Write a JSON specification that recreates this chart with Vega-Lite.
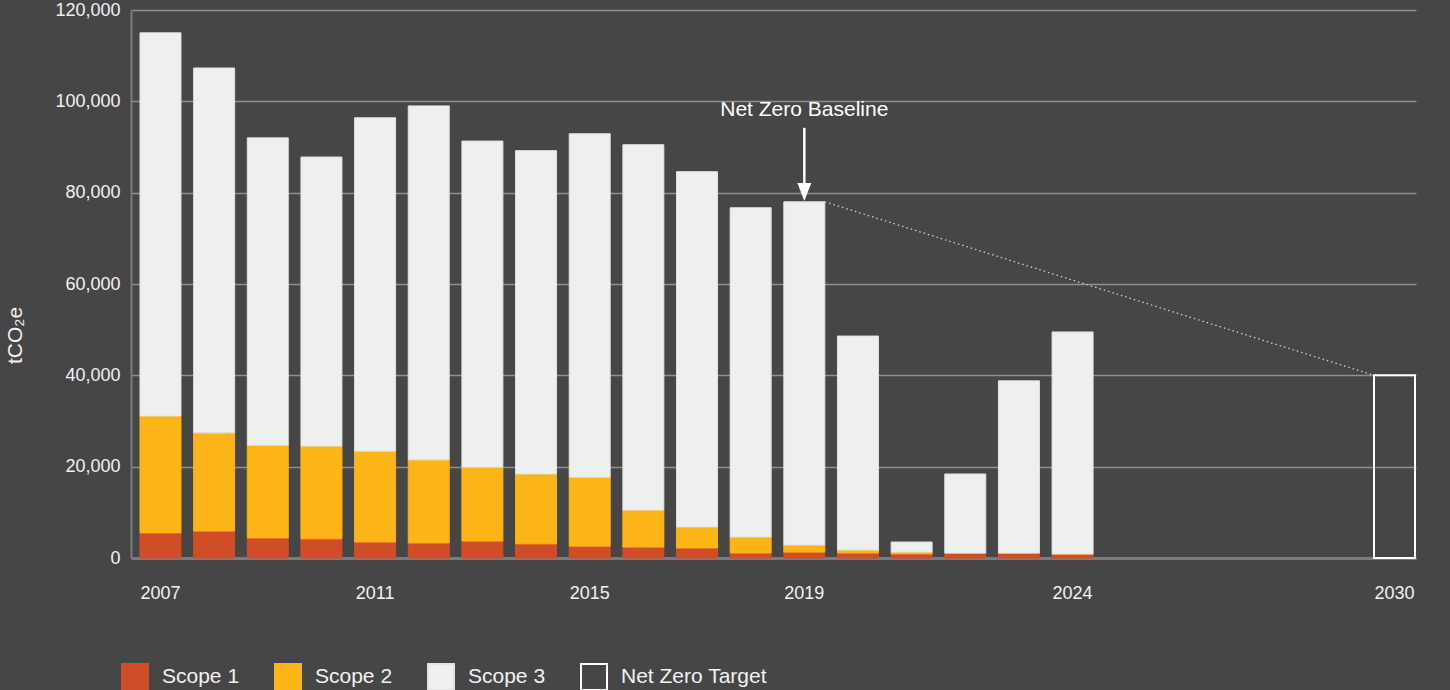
{
  "$schema": "https://vega.github.io/schema/vega-lite/v6.json",
  "autosize": {"type": "none"},
  "padding": {"left": 131, "top": 10, "right": 34, "bottom": 132},
  "width": 1285,
  "height": 548,
  "background": "#464646",
  "config": {
    "view": {"stroke": null},
    "font": "Liberation Sans",
    "text": {"font": "Liberation Sans"}
  },
  "datasets": {
    "emissions": [
      {"year": "2007", "scope": "Scope 1", "value": 5500},
      {"year": "2007", "scope": "Scope 2", "value": 25600},
      {"year": "2007", "scope": "Scope 3", "value": 83900},
      {"year": "2008", "scope": "Scope 1", "value": 5900},
      {"year": "2008", "scope": "Scope 2", "value": 21500},
      {"year": "2008", "scope": "Scope 3", "value": 79900},
      {"year": "2009", "scope": "Scope 1", "value": 4400},
      {"year": "2009", "scope": "Scope 2", "value": 20300},
      {"year": "2009", "scope": "Scope 3", "value": 67300},
      {"year": "2010", "scope": "Scope 1", "value": 4200},
      {"year": "2010", "scope": "Scope 2", "value": 20300},
      {"year": "2010", "scope": "Scope 3", "value": 63300},
      {"year": "2011", "scope": "Scope 1", "value": 3500},
      {"year": "2011", "scope": "Scope 2", "value": 19900},
      {"year": "2011", "scope": "Scope 3", "value": 73000},
      {"year": "2012", "scope": "Scope 1", "value": 3300},
      {"year": "2012", "scope": "Scope 2", "value": 18200},
      {"year": "2012", "scope": "Scope 3", "value": 77500},
      {"year": "2013", "scope": "Scope 1", "value": 3700},
      {"year": "2013", "scope": "Scope 2", "value": 16200},
      {"year": "2013", "scope": "Scope 3", "value": 71400},
      {"year": "2014", "scope": "Scope 1", "value": 3100},
      {"year": "2014", "scope": "Scope 2", "value": 15300},
      {"year": "2014", "scope": "Scope 3", "value": 70800},
      {"year": "2015", "scope": "Scope 1", "value": 2600},
      {"year": "2015", "scope": "Scope 2", "value": 15100},
      {"year": "2015", "scope": "Scope 3", "value": 75200},
      {"year": "2016", "scope": "Scope 1", "value": 2400},
      {"year": "2016", "scope": "Scope 2", "value": 8100},
      {"year": "2016", "scope": "Scope 3", "value": 80000},
      {"year": "2017", "scope": "Scope 1", "value": 2200},
      {"year": "2017", "scope": "Scope 2", "value": 4600},
      {"year": "2017", "scope": "Scope 3", "value": 77800},
      {"year": "2018", "scope": "Scope 1", "value": 1100},
      {"year": "2018", "scope": "Scope 2", "value": 3500},
      {"year": "2018", "scope": "Scope 3", "value": 72100},
      {"year": "2019", "scope": "Scope 1", "value": 1300},
      {"year": "2019", "scope": "Scope 2", "value": 1550},
      {"year": "2019", "scope": "Scope 3", "value": 75150},
      {"year": "2020", "scope": "Scope 1", "value": 1100},
      {"year": "2020", "scope": "Scope 2", "value": 650},
      {"year": "2020", "scope": "Scope 3", "value": 46850},
      {"year": "2021", "scope": "Scope 1", "value": 900},
      {"year": "2021", "scope": "Scope 2", "value": 400},
      {"year": "2021", "scope": "Scope 3", "value": 2200},
      {"year": "2022", "scope": "Scope 1", "value": 1100},
      {"year": "2022", "scope": "Scope 2", "value": 0},
      {"year": "2022", "scope": "Scope 3", "value": 17300},
      {"year": "2023", "scope": "Scope 1", "value": 1100},
      {"year": "2023", "scope": "Scope 2", "value": 0},
      {"year": "2023", "scope": "Scope 3", "value": 37700},
      {"year": "2024", "scope": "Scope 1", "value": 900},
      {"year": "2024", "scope": "Scope 2", "value": 0},
      {"year": "2024", "scope": "Scope 3", "value": 48600}
    ],
    "target": [
      {"year": "2030", "scope": "Net Zero Target", "value": 40000}
    ],
    "trend": [
      {"from": "2019", "to": "2030", "start": 78000, "end": 40000}
    ],
    "label": [
      {"year": "2019", "text": "Net Zero Baseline", "value": 98100, "shaftTop": 94200, "shaftBottom": 81700, "head": 80150}
    ]
  },
  "encoding": {
    "x": {
      "field": "year",
      "type": "ordinal",
      "scale": {
        "domain": ["2007","2008","2009","2010","2011","2012","2013","2014","2015","2016","2017","2018","2019","2020","2021","2022","2023","2024","2025","2026","2027","2028","2029","2030"],
        "paddingInner": 0.236,
        "paddingOuter": 0.093,
        "align": 0.9
      },
      "axis": {
        "values": ["2007","2011","2015","2019","2024","2030"],
        "title": null,
        "labelAngle": 0,
        "labelFontSize": 18,
        "labelColor": "#f2f2f2",
        "labelPadding": 26,
        "ticks": false,
        "domainColor": "#7b7b7b",
        "domainWidth": 3,
        "grid": false
      }
    }
  },
  "layer": [
    {
      "data": {"name": "emissions"},
      "mark": {"type": "bar"},
      "encoding": {
        "y": {
          "field": "value",
          "type": "quantitative",
          "stack": "zero",
          "scale": {"domain": [0, 120000], "nice": false},
          "axis": {
            "values": [0, 20000, 40000, 60000, 80000, 100000, 120000],
            "format": ",d",
            "title": "tCO₂e",
            "titleFontSize": 21,
            "titleFontWeight": "normal",
            "titleColor": "#f2f2f2",
            "titleX": -116,
            "titleY": 325,
            "titleAngle": -90,
            "titleAlign": "center",
            "titleBaseline": "middle",
            "labelFontSize": 18,
            "labelColor": "#f2f2f2",
            "labelPadding": 11,
            "ticks": false,
            "domainColor": "#7b7b7b",
            "domainWidth": 2,
            "grid": true,
            "gridColor": "#8f8f8f",
            "gridWidth": 1.5
          }
        },
        "fill": {
          "field": "scope",
          "type": "nominal",
          "scale": {
            "domain": ["Scope 1", "Scope 2", "Scope 3", "Net Zero Target"],
            "range": ["#d14d28", "#fdb416", "#eef0ef", "rgba(0,0,0,0)"]
          },
          "legend": {
            "title": null,
            "orient": "none",
            "legendX": -10,
            "legendY": 653,
            "direction": "horizontal",
            "symbolType": "square",
            "symbolSize": 676,
            "symbolStrokeWidth": 2,
            "symbolOpacity": 1,
            "labelFontSize": 21,
            "labelColor": "#f2f2f2",
            "labelOffset": 13,
            "columnPadding": 31
          }
        },
        "stroke": {
          "field": "scope",
          "type": "nominal",
          "scale": {
            "domain": ["Scope 1", "Scope 2", "Scope 3", "Net Zero Target"],
            "range": ["#d14d28", "#fdb416", "#e2e2e2", "#ffffff"]
          },
          "legend": {
            "title": null,
            "orient": "none",
            "legendX": -10,
            "legendY": 653,
            "direction": "horizontal",
            "symbolType": "square",
            "symbolSize": 676,
            "symbolStrokeWidth": 2,
            "labelFontSize": 21,
            "labelColor": "#f2f2f2",
            "labelOffset": 13,
            "columnPadding": 31
          }
        },
        "order": {"field": "scope", "sort": "ascending"}
      }
    },
    {
      "data": {"name": "target"},
      "mark": {"type": "bar", "strokeWidth": 2},
      "encoding": {
        "y": {"field": "value", "type": "quantitative", "stack": null},
        "fill": {"field": "scope", "type": "nominal"},
        "stroke": {"field": "scope", "type": "nominal"}
      }
    },
    {
      "data": {"name": "trend"},
      "mark": {"type": "rule", "color": "#d0d0d0", "strokeWidth": 1.3, "strokeDash": [1.5, 3]},
      "encoding": {
        "x": {"field": "from", "type": "ordinal", "bandPosition": 1},
        "x2": {"field": "to", "bandPosition": 0},
        "y": {"field": "start", "type": "quantitative"},
        "y2": {"field": "end"}
      }
    },
    {
      "data": {"name": "label"},
      "mark": {"type": "text", "color": "#ffffff", "fontSize": 21, "align": "center", "baseline": "middle"},
      "encoding": {
        "y": {"field": "value", "type": "quantitative"},
        "text": {"field": "text"}
      }
    },
    {
      "data": {"name": "label"},
      "mark": {"type": "rule", "color": "#ffffff", "strokeWidth": 2.5},
      "encoding": {
        "y": {"field": "shaftTop", "type": "quantitative"},
        "y2": {"field": "shaftBottom"}
      }
    },
    {
      "data": {"name": "label"},
      "mark": {"type": "point", "shape": "M-1,-1.3L1,-1.3L0,1.3Z", "filled": true, "color": "#ffffff", "size": 196, "opacity": 1},
      "encoding": {
        "y": {"field": "head", "type": "quantitative"}
      }
    }
  ]
}
